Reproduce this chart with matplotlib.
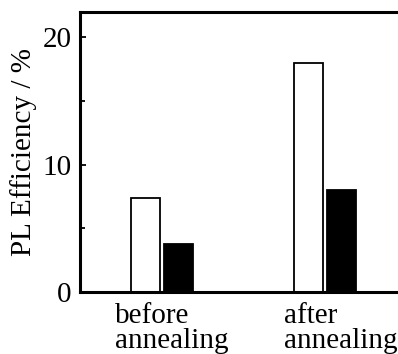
import numpy as np
import matplotlib.pyplot as plt
from matplotlib.ticker import MultipleLocator

categories = ["before\nannealing", "after\nannealing"]
open_bars = [7.4, 18.0]
filled_bars = [3.8, 8.0]

plt.rcParams['font.family'] = ['Liberation Serif', 'DejaVu Serif']

fig = plt.figure(figsize=(3.98, 3.54), dpi=100)
ax = fig.add_axes([80 / 398, 62 / 354, 318 / 398, 280 / 354])

x = np.arange(len(categories))
w = 0.175
ax.bar(x - 0.1, open_bars, w, facecolor="white", edgecolor="black", linewidth=1.3)
ax.bar(x + 0.1, filled_bars, w, facecolor="black", edgecolor="black", linewidth=1.3)

ax.set_xlim(-0.503, 1.448)
ax.set_ylim(0, 22)
ax.yaxis.set_major_locator(MultipleLocator(10))
ax.yaxis.set_minor_locator(MultipleLocator(5))
# labels sit a little right of the group centres (ticks are hidden anyway)
ax.set_xticks(x + np.array([0.061, 0.098]))
ax.set_xticklabels(categories, fontsize=21, linespacing=0.96, multialignment="left")
ax.tick_params(axis="x", length=0, pad=8)
ax.tick_params(axis="y", which="both", direction="in", labelsize=21, pad=6, width=1.3)
ax.tick_params(axis="y", which="major", length=4)
ax.tick_params(axis="y", which="minor", length=3.5)

for side in ["left", "bottom", "top"]:
    ax.spines[side].set_linewidth(2.2)
ax.spines["right"].set_visible(False)

ax.set_ylabel("PL Efficiency / %", fontsize=21, labelpad=4)

fig.savefig("out.png", dpi=100)
